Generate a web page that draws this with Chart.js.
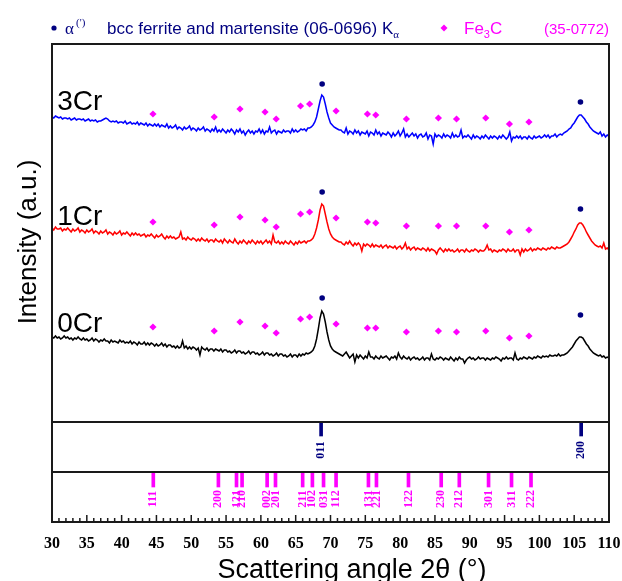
<!DOCTYPE html>
<html>
<head>
<meta charset="utf-8">
<script src="https://cdn.jsdelivr.net/npm/chart.js@4/dist/chart.umd.min.js"></script>
<style>
  html, body { margin: 0; padding: 0; background: #fff; }
  #xrd { display: block; }
</style>
</head>
<body>
<canvas id="xrd" width="622" height="581"></canvas>
<script>
// ================= DATA =================
// scans run 30..110 deg 2θ, one reading every 0.25 deg
const SCAN_START = 30;
const SCAN_STEP = 0.25;

const int3Cr = [
  405, 404, 406, 405,  404, 405, 403, 404,  404, 403, 404, 402,  403, 404, 402, 403,
  403, 402, 403, 401,  402, 403, 401, 402,  401, 402, 400, 401,  401, 402, 403, 404,
  403, 401, 400, 401,  400, 401, 399, 400,  400, 399, 401, 398,  399, 400, 398, 399,
  398, 400, 397, 399,  398, 397, 399, 396,  398, 397, 396, 398,  396, 398, 395, 397,
  396, 395, 398, 394,  396, 394, 395, 397,  393, 395, 394, 392,  395, 393, 394, 396,
  392, 394, 393, 391,  394, 392, 393, 395,  391, 393, 392, 390,  393, 391, 395, 390,
  392, 390, 393, 391,  389, 392, 390, 393,  391, 388, 392, 390,  393, 389, 391, 387,
  390, 392, 389, 391,  388, 391, 390, 393,  389, 392, 388, 391,  390, 395, 389, 391,
  392, 388, 391, 390,  389, 392, 390, 391,  391, 389, 393, 390,  392, 390, 391, 393,
  392, 393, 391, 394,  394, 395, 397, 400,  405, 413, 421, 427,  425, 418, 410, 404,
  399, 397, 395, 394,  393, 392, 392, 390,  389, 394, 388, 391,  390, 388, 392, 389,
  391, 387, 390, 389,  388, 391, 386, 390,  389, 387, 392, 388,  390, 386, 389, 388,
  387, 390, 388, 385,  389, 386, 388, 391,  386, 389, 393, 385,  388, 385, 387, 389,
  386, 388, 384, 387,  388, 385, 386, 389,  383, 387, 386, 378,  388, 385, 387, 386,
  384, 388, 385, 387,  386, 384, 389, 385,  387, 385, 386, 392,  384, 386, 385, 387,
  385, 383, 387, 384,  386, 385, 383, 386,  384, 387, 385, 383,  386, 384, 386, 385,
  383, 386, 384, 387,  385, 383, 385, 390,  381, 385, 384, 386,  384, 386, 383, 385,
  385, 383, 386, 384,  383, 386, 384, 385,  386, 384, 385, 387,  385, 387, 384, 386,
  386, 388, 385, 387,  388, 387, 389, 390,  391, 393, 394, 397,  399, 402, 405, 407,
  407, 405, 403, 400,  398, 395, 393, 391,  390, 389, 388, 390,  386, 388, 385, 387,
  386
];

const int1Cr = [
  294, 292, 295, 293,  293, 294, 291, 293,  292, 294, 292, 290,  293, 291, 292, 294,
  290, 292, 291, 289,  292, 290, 291, 293,  289, 291, 290, 288,  291, 289, 290, 292,
  288, 290, 289, 287,  290, 288, 289, 291,  287, 289, 288, 290,  288, 286, 289, 287,
  289, 287, 288, 286,  287, 288, 285, 287,  286, 288, 286, 284,  287, 285, 286, 288,
  285, 283, 286, 284,  286, 284, 285, 283,  284, 285, 290, 283,  284, 282, 285, 283,
  282, 284, 283, 281,  283, 281, 284, 282,  281, 283, 280, 282,  282, 280, 283, 281,
  280, 282, 279, 283,  281, 279, 282, 280,  279, 283, 280, 278,  281, 279, 282, 280,
  278, 281, 279, 282,  280, 278, 281, 279,  281, 278, 280, 282,  279, 281, 278, 287,
  280, 279, 281, 278,  280, 278, 281, 279,  278, 281, 279, 277,  280, 278, 281, 279,
  280, 281, 279, 281,  281, 282, 284, 288,  294, 302, 312, 318,  316, 308, 300, 293,
  288, 285, 283, 282,  281, 280, 280, 278,  277, 280, 278, 281,  278, 276, 279, 277,
  279, 277, 271, 278,  276, 278, 277, 275,  278, 275, 277, 276,  275, 277, 274, 276,
  277, 274, 276, 275,  274, 276, 273, 275,  276, 273, 275, 279,  273, 275, 272, 274,
  275, 272, 274, 273,  272, 274, 273, 271,  274, 271, 273, 272,  271, 268, 272, 274,
  272, 270, 273, 271,  273, 271, 272, 270,  271, 273, 270, 272,  272, 270, 273, 271,
  270, 272, 271, 273,  272, 270, 272, 271,  271, 273, 277, 272,  273, 270, 272, 271,
  270, 272, 271, 273,  272, 270, 273, 271,  271, 273, 270, 272,  272, 267, 273, 270,
  273, 271, 272, 274,  271, 273, 272, 274,  273, 272, 274, 273,  272, 274, 273, 275,
  274, 273, 275, 274,  274, 275, 276, 277,  278, 280, 283, 286,  290, 293, 297, 299,
  299, 297, 294, 290,  287, 284, 281, 279,  277, 276, 275, 276,  274, 279, 273, 274,
  272
];

const int0Cr = [
  185, 184, 186, 184,  185, 183, 184, 186,  184, 185, 183, 184,  182, 184, 183, 185,
  183, 182, 184, 182,  183, 181, 182, 184,  181, 183, 182, 180,  182, 181, 183, 181,
  181, 179, 182, 180,  181, 180, 179, 182,  180, 181, 179, 180,  179, 181, 178, 180,
  179, 177, 180, 178,  178, 180, 177, 179,  177, 179, 178, 176,  178, 176, 177, 179,
  176, 178, 175, 177,  177, 175, 176, 174,  176, 174, 175, 181,  174, 176, 173, 175,
  173, 175, 174, 172,  174, 167, 175, 173,  172, 174, 171, 173,  173, 171, 173, 172,
  171, 173, 170, 172,  172, 170, 171, 169,  170, 172, 169, 171,  171, 169, 170, 168,
  169, 171, 168, 170,  170, 168, 169, 167,  168, 170, 167, 169,  169, 167, 168, 166,
  167, 169, 166, 168,  168, 166, 167, 165,  166, 168, 165, 167,  167, 165, 168, 166,
  168, 167, 169, 168,  169, 170, 172, 176,  183, 193, 204, 211,  208, 200, 190, 182,
  176, 173, 171, 170,  169, 168, 167, 166,  168, 170, 167, 164,  166, 168, 160, 167,
  164, 167, 165, 163,  166, 164, 170, 165,  165, 163, 166, 164,  163, 166, 164, 165,
  166, 164, 162, 165,  164, 166, 163, 169,  165, 163, 166, 164,  163, 165, 162, 164,
  165, 163, 164, 162,  163, 165, 162, 164,  164, 162, 168, 163,  162, 164, 163, 165,
  164, 162, 164, 163,  162, 165, 163, 161,  164, 162, 165, 163,  163, 159, 162, 164,
  165, 163, 164, 162,  163, 165, 163, 164,  164, 162, 164, 163,  162, 164, 163, 165,
  164, 163, 161, 164,  163, 165, 163, 164,  164, 162, 169, 163,  162, 164, 163, 165,
  164, 163, 165, 164,  163, 165, 164, 166,  165, 164, 166, 165,  166, 165, 167, 166,
  166, 167, 166, 168,  166, 167, 167, 168,  169, 171, 173, 175,  178, 181, 183, 185,
  185, 184, 181, 178,  176, 173, 171, 169,  168, 167, 166, 167,  165, 166, 164, 165,
  164
];

const sampleNames = ['3Cr', '1Cr', '0Cr'];
const sampleColors = ['#0000FF', '#FF0000', '#000000'];
const sampleLabelY = [412, 297, 190];

// phase markers above the patterns
const fe3cMarkAngles = [44.5, 53.3, 57.0, 60.6, 62.2, 65.7, 67.0, 70.8, 75.3, 76.5, 80.9, 85.5, 88.1, 92.3, 95.7, 98.5];
const fe3cMark3Cr = [408, 405, 413, 410, 403, 416, 418, 411, 408, 407, 403, 404, 403, 404, 398, 400];
const fe3cMark1Cr = [300, 297, 305, 302, 295, 308, 310, 304, 300, 299, 296, 296, 296, 296, 290, 292];
const fe3cMark0Cr = [195, 191, 200, 196, 189, 203, 205, 198, 194, 194, 190, 191, 190, 191, 184, 186];

const alphaMarkAngles = [68.8, 105.9];
const alphaMark3Cr = [438, 420];
const alphaMark1Cr = [330, 313];
const alphaMark0Cr = [224, 207];

// reference cards: α-Fe (06-0696) and Fe3C (35-0772)
const alphaRefAngles = [68.65, 106.0];
const alphaRefHkl = ['011', '200'];
const fe3cRefAngles = [44.55, 53.9, 56.5, 57.3, 60.9, 62.1, 66.0, 67.4, 69.0, 70.8, 75.45, 76.6, 81.2, 85.9, 88.5, 92.7, 96.0, 98.8];
const fe3cRefHkl = ['111', '200', '121', '210', '002', '201', '211', '102', '031', '112', '131', '221', '122', '230', '212', '301', '311', '222'];

// stick extents and label centres inside the two card panels (y units)
const alphaStick = [86, 100];
const fe3cStick = [35, 49];
const alphaHklY = 72;
const fe3cHklY = 23;
const panelSplits = [100.5, 50];

const NAVY = '#000080';
const MAGENTA = '#FF00FF';

// ================= BUILD =================
const angles = int3Cr.map((_, i) => SCAN_START + i * SCAN_STEP);
const toPoints = arr => arr.map((v, i) => ({ x: angles[i], y: v }));
const markPoints = (xs, ys) => xs.map((x, i) => ({ x: x, y: ys[i] }));

const datasets = [];
[int3Cr, int1Cr, int0Cr].forEach((arr, k) => {
  datasets.push({
    type: 'line',
    label: sampleNames[k],
    data: toPoints(arr),
    borderColor: sampleColors[k],
    borderWidth: 1.5,
    pointRadius: 0,
    tension: 0
  });
});

[fe3cMark3Cr, fe3cMark1Cr, fe3cMark0Cr].forEach(ys => {
  datasets.push({
    type: 'scatter',
    data: markPoints(fe3cMarkAngles, ys),
    pointStyle: 'rectRot',
    pointRadius: 3.6,
    backgroundColor: MAGENTA,
    borderColor: MAGENTA,
    borderWidth: 0
  });
});

[alphaMark3Cr, alphaMark1Cr, alphaMark0Cr].forEach(ys => {
  datasets.push({
    type: 'scatter',
    data: markPoints(alphaMarkAngles, ys),
    pointStyle: 'circle',
    pointRadius: 2.8,
    backgroundColor: NAVY,
    borderColor: NAVY,
    borderWidth: 0
  });
});

datasets.push({
  type: 'bar',
  data: alphaRefAngles.map(a => ({ x: a, y: alphaStick })),
  backgroundColor: NAVY,
  barThickness: 3,
  grouped: false
});
datasets.push({
  type: 'bar',
  data: fe3cRefAngles.map(a => ({ x: a, y: fe3cStick })),
  backgroundColor: MAGENTA,
  barThickness: 3,
  grouped: false
});

// frame, inner ticks, hkl labels, legend and titles
const decorPlugin = {
  id: 'decor',
  afterDatasetsDraw(chart) {
    const { ctx, chartArea: a, scales: { x, y } } = chart;
    ctx.save();

    // hkl labels under the sticks, rotated
    const hkl = (angles, names, yv, color) => {
      ctx.fillStyle = color;
      ctx.font = 'bold 12px "Liberation Serif"';
      ctx.textAlign = 'center';
      ctx.textBaseline = 'middle';
      angles.forEach((ang, i) => {
        ctx.save();
        ctx.translate(x.getPixelForValue(ang), y.getPixelForValue(yv));
        ctx.rotate(-Math.PI / 2);
        ctx.fillText(names[i], 0, 0);
        ctx.restore();
      });
    };
    hkl(alphaRefAngles, alphaRefHkl, alphaHklY, NAVY);
    hkl(fe3cRefAngles, fe3cRefHkl, fe3cHklY, MAGENTA);

    // sample names
    ctx.fillStyle = '#000';
    ctx.font = '28px "Liberation Sans"';
    ctx.textAlign = 'left';
    ctx.textBaseline = 'alphabetic';
    sampleNames.forEach((n, i) => {
      ctx.fillText(n, x.getPixelForValue(30.76), y.getPixelForValue(sampleLabelY[i]));
    });

    // frame and panel dividers
    ctx.strokeStyle = '#1a1a1a';
    ctx.lineWidth = 2;
    ctx.strokeRect(a.left, a.top, a.right - a.left, a.bottom - a.top);
    panelSplits.forEach(v => {
      const py = Math.round(y.getPixelForValue(v));
      ctx.beginPath();
      ctx.moveTo(a.left, py);
      ctx.lineTo(a.right, py);
      ctx.stroke();
    });

    // inward ticks on the bottom axis
    ctx.lineWidth = 1.5;
    for (let t = 30; t <= 110; t++) {
      const px = x.getPixelForValue(t);
      const len = t % 5 === 0 ? 7 : 4;
      ctx.beginPath();
      ctx.moveTo(px, a.bottom);
      ctx.lineTo(px, a.bottom - len);
      ctx.stroke();
    }

    // axis titles
    ctx.fillStyle = '#000';
    ctx.font = '27px "Liberation Sans"';
    ctx.textAlign = 'center';
    ctx.textBaseline = 'alphabetic';
    ctx.fillText('Scattering angle 2θ (°)', 352, 578);
    ctx.font = '26px "Liberation Sans"';
    ctx.save();
    ctx.translate(36, 242);
    ctx.rotate(-Math.PI / 2);
    ctx.fillText('Intensity (a.u.)', 0, 0);
    ctx.restore();

    // legend row
    ctx.textAlign = 'left';
    ctx.fillStyle = NAVY;
    ctx.beginPath();
    ctx.arc(54, 28, 2.6, 0, Math.PI * 2);
    ctx.fill();
    ctx.font = '17px "Liberation Serif"';
    ctx.fillText('α', 65, 34);
    ctx.font = '11px "Liberation Serif"';
    ctx.fillText("(')", 76, 26);
    ctx.font = '17px "Liberation Sans"';
    const txt = 'bcc ferrite and martensite (06-0696) K';
    ctx.fillText(txt, 107, 34);
    const w = ctx.measureText(txt).width;
    ctx.font = '11px "Liberation Serif"';
    ctx.fillText('α', 107 + w, 38);

    ctx.fillStyle = MAGENTA;
    ctx.beginPath();
    ctx.moveTo(444, 24.5);
    ctx.lineTo(447.5, 28);
    ctx.lineTo(444, 31.5);
    ctx.lineTo(440.5, 28);
    ctx.closePath();
    ctx.fill();
    ctx.font = '17px "Liberation Sans"';
    ctx.fillText('Fe', 464, 34);
    let fx = 464 + ctx.measureText('Fe').width;
    ctx.font = '11px "Liberation Sans"';
    ctx.fillText('3', fx, 38);
    fx += ctx.measureText('3').width;
    ctx.font = '17px "Liberation Sans"';
    ctx.fillText('C', fx, 34);
    ctx.font = '15px "Liberation Sans"';
    ctx.fillText('(35-0772)', 544, 34);

    ctx.restore();
  }
};

new Chart(document.getElementById('xrd'), {
  type: 'line',
  data: { datasets: datasets },
  options: {
    responsive: false,
    animation: false,
    devicePixelRatio: 1,
    layout: { padding: { left: 52, right: 13, top: 44, bottom: 0 } },
    plugins: { legend: { display: false }, tooltip: { enabled: false } },
    scales: {
      x: {
        type: 'linear',
        min: 30,
        max: 110,
        offset: false,
        grid: { display: false, offset: false, drawTicks: false },
        border: { display: false },
        ticks: {
          stepSize: 5,
          autoSkip: false,
          maxRotation: 0,
          padding: 12,
          color: '#000',
          font: { family: '"Liberation Serif"', size: 16, weight: 'bold' }
        },
        // fixed band below the plot; label overhang handled by layout padding
        afterFit(scale) {
          scale.height = 59;
          scale.paddingLeft = 0;
          scale.paddingRight = 0;
        }
      },
      y: {
        type: 'linear',
        min: 0,
        max: 478,
        display: false
      }
    }
  },
  plugins: [decorPlugin]
});
</script>
</body>
</html>
